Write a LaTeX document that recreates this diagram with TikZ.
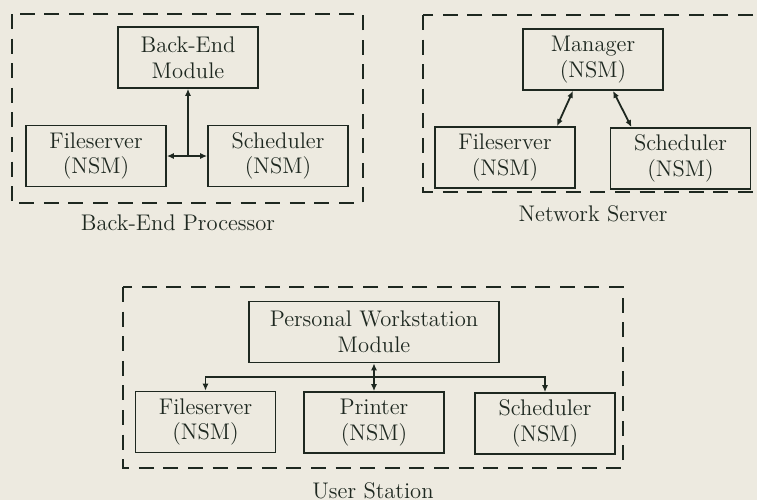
\documentclass[tikz,border=0pt]{standalone}
\usetikzlibrary{arrows.meta,calc}
\begin{document}
\begin{tikzpicture}[x=0.5pt, y=-0.5pt, font=\fontsize{11.3}{12.8}\selectfont,
  module/.style={draw=ink, line width=0.85pt, text=ink, align=center, minimum width=70pt, minimum height=30.5pt, inner sep=2pt},
  group/.style={draw=ink, line width=1pt, dash pattern=on 7.5pt off 4.8pt},
  caption/.style={text=ink, anchor=base},
  link/.style={draw=ink, line width=0.9pt, {Latex[length=3.5pt,width=3pt]}-{Latex[length=3.5pt,width=3pt]}},
  onelink/.style={draw=ink, line width=0.9pt, -{Latex[length=3.5pt,width=3pt]}}]
\definecolor{paper}{HTML}{EDEAE0}
\definecolor{ink}{HTML}{1E2820}
\fill[paper] (0,0) rectangle (757,500);
\clip (0,0) rectangle (757,500);
\draw[group] (11.7,14) rectangle (362.7,203.3);
\node[module] (bem) at (188,57.5) {Back-End\\Module};
\node[module] (fs1) at (96,156) {Fileserver\\(NSM)};
\node[module] (sc1) at (278,156) {Scheduler\\(NSM)};
\coordinate (j1) at (bem.south |- fs1.east);
\draw[link] (fs1.east) -- (sc1.west);
\draw[onelink] (j1) -- (bem.south);
\node[caption] (bep) at (178,230) {Back-End Processor};
\draw[group] (423,15) rectangle (780,192);
\node[module] (mgr) at (593,59.5) {Manager\\(NSM)};
\node[module] (fs2) at (505,157.5) {Fileserver\\(NSM)};
\node[module] (sc2) at (680.5,158.5) {Scheduler\\(NSM)};
\draw[link] ([xshift=-10pt]mgr.south) -- ([xshift=26pt]fs2.north);
\draw[link] ([xshift=10pt]mgr.south) -- ([xshift=-24.5pt]sc2.north);
\node[caption] (ns) at (593,221) {Network Server};
\draw[group] (123,287) rectangle (623,468);
\node[module, minimum width=125pt] (pwm) at (374,332) {Personal Workstation\\Module};
\node[module] (fs3) at (205.5,422) {Fileserver\\(NSM)};
\node[module] (pr) at (374,422.5) {Printer\\(NSM)};
\node[module] (sc3) at (545,423.5) {Scheduler\\(NSM)};
\coordinate (bus) at ($(pwm.south)!0.5!(pr.north)$);
\draw[link] (pwm.south) -- (pr.north);
\draw[onelink] (bus) -| (fs3.north);
\draw[onelink] (bus) -| (sc3.north);
\node[caption] (us) at (373,498) {User Station};
\end{tikzpicture}
\end{document}
